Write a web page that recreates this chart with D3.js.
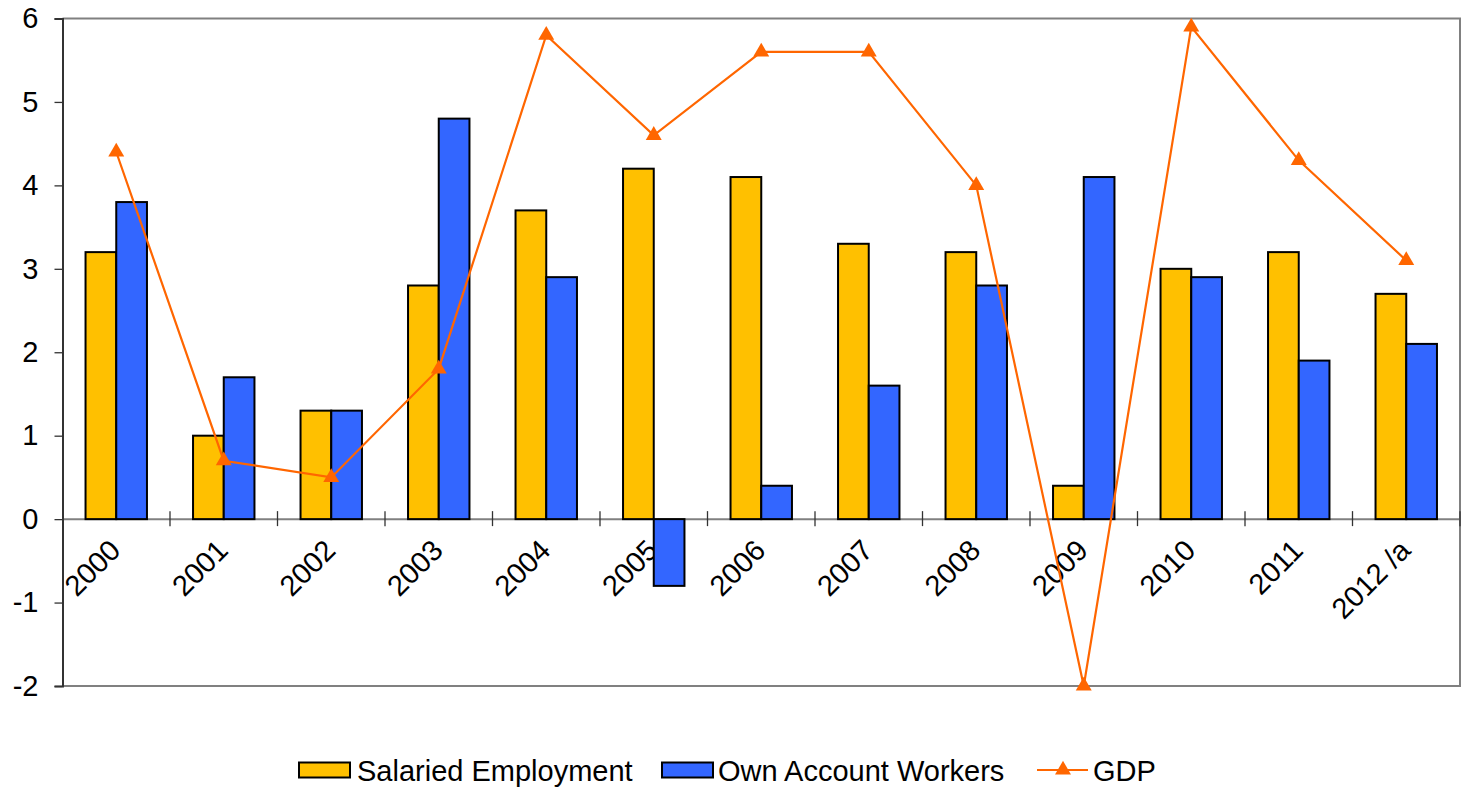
<!DOCTYPE html>
<html><head><meta charset="utf-8">
<script src="https://cdn.jsdelivr.net/npm/d3@7"></script>
<style>
html,body{margin:0;padding:0;background:#fff;}
svg{display:block;font-family:"Liberation Sans",Arial,sans-serif;}
</style></head>
<body>
<svg id="chart" width="1464" height="788"></svg>
<script>
const categories = ["2000","2001","2002","2003","2004","2005","2006","2007","2008","2009","2010","2011","2012 /a"];
const salaried = [3.2,1.0,1.3,2.8,3.7,4.2,4.1,3.3,3.2,0.4,3.0,3.2,2.7];
const ownAccount = [3.8,1.7,1.3,4.8,2.9,-0.8,0.4,1.6,2.8,4.1,2.9,1.9,2.1];
const gdp = [4.4,0.7,0.5,1.8,5.8,4.6,5.6,5.6,4.0,-2.0,5.9,4.3,3.1];
const yTicks = [-2,-1,0,1,2,3,4,5,6];
const seriesNames = ["Salaried Employment","Own Account Workers","GDP"];

const colSal = "#FFC000", colOwn = "#3366FF", colGdp = "#FF6600";
const svg = d3.select("#chart");
const L = 62.5, R = 1460, T = 18.5, B = 686;
const x = d3.scaleBand().domain(categories).range([L, R]).padding(0);
const y = d3.scaleLinear().domain([-2, 6]).range([B, T]);
const bw = x.bandwidth();
const barW = bw / 3.5;
const off = (bw - 2 * barW) / 2;
const fs = 29;

// plot border (top, right, bottom)
svg.append("path")
  .attr("d", `M${L},${T}H${R}V${B}H${L}`)
  .attr("fill", "none").attr("stroke", "#808080").attr("stroke-width", 2);

// category labels (drawn beneath bars)
svg.append("g").selectAll("text").data(categories).join("text")
  .attr("transform", d => `translate(${x(d) + bw / 2 + 6},${y(0) + 33}) rotate(-45)`)
  .attr("text-anchor", "end")
  .attr("font-size", fs).attr("fill", "#000")
  .text(d => d);

// zero line
svg.append("line").attr("x1", L).attr("x2", R).attr("y1", y(0)).attr("y2", y(0))
  .attr("stroke", "#808080").attr("stroke-width", 2);
// category ticks
const xTickPos = categories.slice(1).map(c => x(c)).concat([R]);
svg.append("g").selectAll("line").data(xTickPos).join("line")
  .attr("x1", d => d).attr("x2", d => d)
  .attr("y1", y(0) - 8).attr("y2", y(0) + 7)
  .attr("stroke", "#333").attr("stroke-width", 1.3);

// bars
const gBars = svg.append("g");
gBars.selectAll("rect.sal").data(salaried).join("rect").attr("class", "sal")
  .attr("x", (d, i) => x(categories[i]) + off)
  .attr("width", barW)
  .attr("y", d => y(Math.max(0, d)))
  .attr("height", d => Math.abs(y(d) - y(0)))
  .attr("fill", colSal).attr("stroke", "#000").attr("stroke-width", 2);
gBars.selectAll("rect.own").data(ownAccount).join("rect").attr("class", "own")
  .attr("x", (d, i) => x(categories[i]) + off + barW)
  .attr("width", barW)
  .attr("y", d => y(Math.max(0, d)))
  .attr("height", d => Math.abs(y(d) - y(0)))
  .attr("fill", colOwn).attr("stroke", "#000").attr("stroke-width", 2);

// y axis
const yAxis = d3.axisLeft(y).tickValues(yTicks).tickSize(8).tickPadding(16).tickFormat(d => String(d));
const ga = svg.append("g").attr("transform", `translate(${L},0)`).call(yAxis);
ga.select(".domain").attr("stroke", "#333").attr("stroke-width", 2);
ga.selectAll(".tick line").attr("stroke", "#333").attr("stroke-width", 1.3);
ga.selectAll(".tick text").attr("font-size", fs).attr("fill", "#000")
  .attr("font-family", '"Liberation Sans",Arial,sans-serif');

// GDP line
const line = d3.line().x((d, i) => x(categories[i]) + bw / 2).y(d => y(d));
svg.append("path").datum(gdp).attr("d", line)
  .attr("fill", "none").attr("stroke", colGdp).attr("stroke-width", 2.2);
const tri = d3.symbol().type(d3.symbolTriangle).size(110);
svg.append("g").selectAll("path").data(gdp).join("path")
  .attr("d", tri)
  .attr("transform", (d, i) => `translate(${x(categories[i]) + bw / 2},${y(d)})`)
  .attr("fill", colGdp);

// legend
const lg = svg.append("g");
const ly = 770;
lg.append("rect").attr("x", 299).attr("y", ly - 7.5).attr("width", 51).attr("height", 15)
  .attr("fill", colSal).attr("stroke", "#000").attr("stroke-width", 2);
lg.append("text").attr("x", 357).attr("y", 781).attr("font-size", fs).text(seriesNames[0]);
lg.append("rect").attr("x", 662).attr("y", ly - 7.5).attr("width", 51).attr("height", 15)
  .attr("fill", colOwn).attr("stroke", "#000").attr("stroke-width", 2);
lg.append("text").attr("x", 718).attr("y", 781).attr("font-size", fs).text(seriesNames[1]);
lg.append("line").attr("x1", 1037).attr("x2", 1088).attr("y1", ly).attr("y2", ly)
  .attr("stroke", colGdp).attr("stroke-width", 2.2);
lg.append("path").attr("d", tri).attr("transform", `translate(1063,${ly})`).attr("fill", colGdp);
lg.append("text").attr("x", 1093).attr("y", 781).attr("font-size", fs).text(seriesNames[2]);
</script>
</body></html>
